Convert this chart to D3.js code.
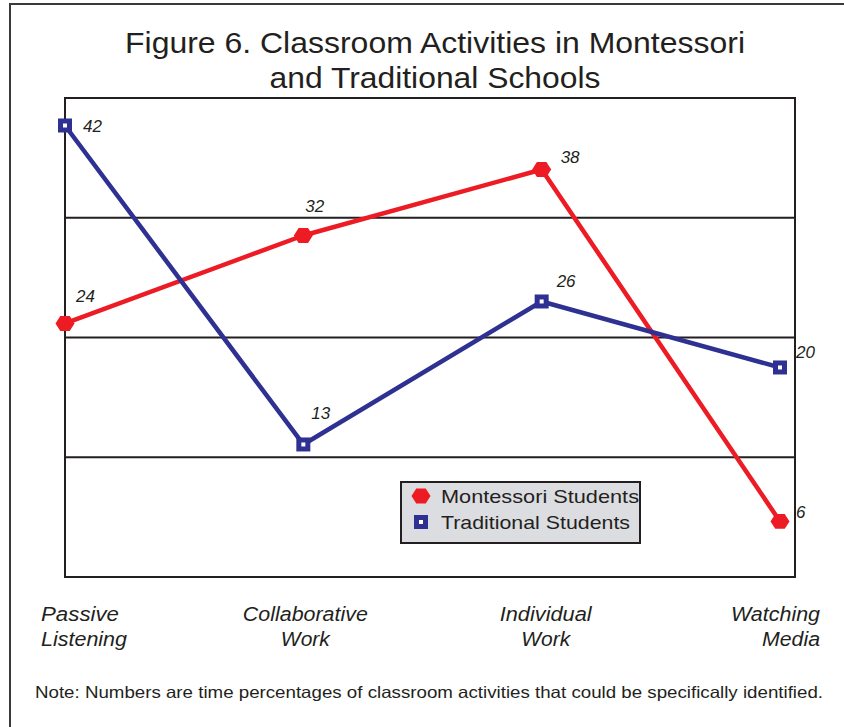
<!DOCTYPE html>
<html>
<head>
<meta charset="utf-8">
<script src="https://cdn.jsdelivr.net/npm/d3@7"></script>
<style>
  body { margin: 0; background: #fff; }
  svg text { font-family: "Liberation Sans", Arial, sans-serif; fill: #231f20; }
</style>
</head>
<body>
<div id="chart"></div>
<script>
// categories (two-line labels) and series values
var categories = [["Passive", "Listening"], ["Collaborative", "Work"], ["Individual", "Work"], ["Watching", "Media"]];
var montessori = [24, 32, 38, 6];
var traditional = [42, 13, 26, 20];
var seriesNames = ["Montessori Students", "Traditional Students"];

var width = 844, height = 727;

var svg = d3.select("#chart").append("svg")
    .attr("width", width)
    .attr("height", height);

// stretch text to the width seen in the original print
function fit(sel, len) {
    sel.attr("textLength", len).attr("lengthAdjust", "spacingAndGlyphs");
    return sel;
}

// outer frame
svg.append("path")
    .attr("d", "M10," + height + "V4H" + width)
    .attr("fill", "none")
    .attr("stroke", "#3a3a3a")
    .attr("stroke-width", 2);

// title
var title = svg.append("text")
    .attr("text-anchor", "middle")
    .attr("font-size", 29);
fit(title.append("tspan").attr("x", 435).attr("y", 53).text("Figure 6. Classroom Activities in Montessori"), 620);
fit(title.append("tspan").attr("x", 435).attr("y", 88).text("and Traditional Schools"), 331);

var box = { left: 65, right: 795, top: 98, bottom: 577 };

var x = d3.scalePoint()
    .domain(d3.range(categories.length))
    .range([65, 780]);

var y = d3.scaleLinear()
    .domain([0.95, 44.5])
    .range([box.bottom, box.top]);

// horizontal grid lines, splitting the box in four bands
var dom = y.domain();
var gridVals = [1, 2, 3].map(function(i) { return dom[0] + i * (dom[1] - dom[0]) / 4; });
svg.selectAll(".grid")
    .data(gridVals)
    .enter().append("line")
    .attr("x1", box.left).attr("x2", box.right)
    .attr("y1", function(d) { return y(d); })
    .attr("y2", function(d) { return y(d); })
    .attr("stroke", "#231f20")
    .attr("stroke-width", 2);

svg.append("rect")
    .attr("x", box.left).attr("y", box.top)
    .attr("width", box.right - box.left)
    .attr("height", box.bottom - box.top)
    .attr("fill", "none")
    .attr("stroke", "#231f20")
    .attr("stroke-width", 2);

// category labels
var anchors = ["start", "middle", "middle", "end"];
var labelX = [41, x(1) + 2, x(2) + 4, 820];
var labelW = [[78, 86], [125, 49], [92, 49], [89, 58]];
categories.forEach(function(c, i) {
    var t = svg.append("text")
        .attr("text-anchor", anchors[i])
        .attr("font-size", 20)
        .attr("font-style", "italic");
    c.forEach(function(line, j) {
        fit(t.append("tspan").attr("x", labelX[i]).attr("y", 621 + j * 25).text(line), labelW[i][j]);
    });
});

// note
fit(svg.append("text")
    .attr("x", 35).attr("y", 698)
    .attr("font-size", 16.5)
    .text("Note: Numbers are time percentages of classroom activities that could be specifically identified."), 788);

var red = "#ed1c24", blue = "#2e3192";

function hexagon(cx, cy, r) {
    var pts = d3.range(6).map(function(k) {
        var a = Math.PI / 3 * k;
        return [cx + r * Math.cos(a), cy + r * 0.9 * Math.sin(a)];
    });
    return "M" + pts.join("L") + "Z";
}

function square(g, cx, cy) {
    g.append("rect")
        .attr("x", cx - 7).attr("y", cy - 7)
        .attr("width", 14).attr("height", 14)
        .attr("fill", blue);
    g.append("rect")
        .attr("x", cx - 2).attr("y", cy - 2)
        .attr("width", 4).attr("height", 4)
        .attr("fill", "#fff");
}

var line = d3.line()
    .x(function(d, i) { return x(i); })
    .y(function(d) { return y(d); });

svg.append("path")
    .datum(montessori)
    .attr("d", line)
    .attr("fill", "none")
    .attr("stroke", red)
    .attr("stroke-width", 4.5)
    .attr("stroke-linejoin", "round");

svg.append("path")
    .datum(traditional)
    .attr("d", line)
    .attr("fill", "none")
    .attr("stroke", blue)
    .attr("stroke-width", 4.5)
    .attr("stroke-linejoin", "round");

montessori.forEach(function(v, i) {
    svg.append("path").attr("d", hexagon(x(i), y(v), 9.5)).attr("fill", red);
});
var sq = svg.append("g");
traditional.forEach(function(v, i) {
    square(sq, x(i), y(v));
});

// value labels, offsets relative to each marker
var mOff = [[11, -21], [2, -23], [19, -6], [16, -3]];
var tOff = [[18, 7], [8, -25], [15, -14], [16, -9]];
function valueLabels(vals, off) {
    vals.forEach(function(v, i) {
        svg.append("text")
            .attr("x", x(i) + off[i][0])
            .attr("y", y(v) + off[i][1])
            .attr("font-size", 17)
            .attr("font-style", "italic")
            .text(v);
    });
}
valueLabels(montessori, mOff);
valueLabels(traditional, tOff);

// legend
var lg = svg.append("g");
lg.append("rect")
    .attr("x", 401).attr("y", 482)
    .attr("width", 239).attr("height", 61)
    .attr("fill", "#dcdde0")
    .attr("stroke", "#231f20")
    .attr("stroke-width", 2);
lg.append("path").attr("d", hexagon(421, 496, 9.5)).attr("fill", red);
square(lg, 421, 522);
var legendW = [198, 189];
seriesNames.forEach(function(n, i) {
    fit(lg.append("text")
        .attr("x", 441).attr("y", 503 + i * 26)
        .attr("font-size", 19)
        .text(n), legendW[i]);
});
</script>
</body>
</html>
